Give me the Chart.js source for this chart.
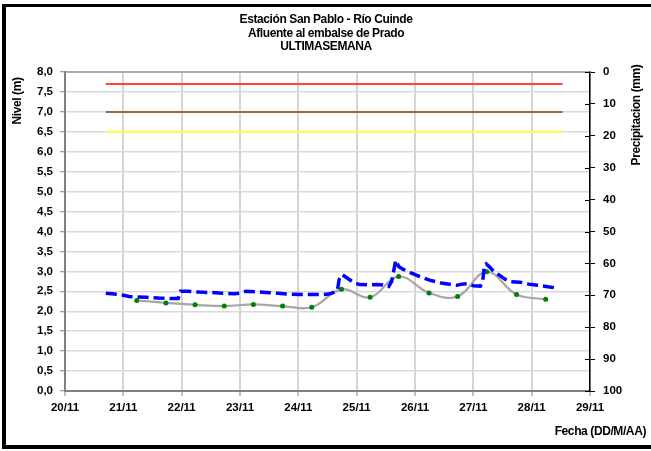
<!DOCTYPE html>
<html><head><meta charset="utf-8">
<script src="https://cdn.jsdelivr.net/npm/chart.js@4"></script>
<style>html,body{margin:0;padding:0;background:#fff}canvas{display:block}</style>
</head><body>
<canvas id="c" width="651" height="451"></canvas>
<script>
// ---- data ----
const titleLines = ['Estación San Pablo - Río Cuinde', 'Afluente al embalse de Prado', 'ULTIMASEMANA'];
const yTitle = 'Nivel (m)';
const y2Title = 'Precipitacion (mm)';
const xTitle = 'Fecha (DD/M/AA)';
const dayLabels = ['20/11','21/11','22/11','23/11','24/11','25/11','26/11','27/11','28/11','29/11'];

const levelT = [20.70,20.85,21.00,21.10,21.20,21.40,21.60,21.80,21.94,21.98,22.10,22.30,22.50,22.70,22.90,23.00,23.10,23.25,23.45,23.65,23.85,24.05,24.25,24.40,24.52,24.62,24.67,24.70,24.75,24.85,24.95,25.05,25.20,25.35,25.45,25.55,25.60,25.64,25.67,25.72,25.80,25.92,26.05,26.25,26.45,26.65,26.72,26.80,26.90,27.00,27.12,27.16,27.19,27.22,27.27,27.35,27.45,27.55,27.65,27.80,27.95,28.10,28.25,28.39];
const levelV = [2.45,2.43,2.40,2.37,2.36,2.35,2.33,2.32,2.32,2.50,2.50,2.48,2.47,2.45,2.44,2.45,2.50,2.49,2.47,2.45,2.43,2.42,2.42,2.42,2.43,2.48,2.52,2.80,2.92,2.82,2.72,2.67,2.66,2.67,2.66,2.62,2.75,3.05,3.28,3.12,3.05,2.97,2.89,2.78,2.71,2.66,2.65,2.68,2.69,2.64,2.63,2.75,3.15,3.19,3.12,3.00,2.90,2.80,2.74,2.73,2.68,2.65,2.62,2.59];

const avgT = [21.23,21.73,22.23,22.73,23.23,23.73,24.23,24.74,25.23,25.72,26.24,26.73,27.23,27.74,28.24];
const avgV = [2.27,2.21,2.16,2.13,2.17,2.13,2.10,2.55,2.35,2.87,2.46,2.37,2.99,2.42,2.30];

const limitT = [20.70, 28.53];
const redLevel = [7.7, 7.7];
const brownLevel = [7.0, 7.0];
const yellowLevel = [6.5, 6.5];

const pts = (t, v) => t.map((x, i) => ({x, y: v[i]}));
const FONT = 'Liberation Sans, Arial, sans-serif';

const decor = {
  id: 'decor',
  beforeDatasetsDraw(chart) {
    const ctx = chart.ctx, a = chart.chartArea;
    ctx.save();
    ctx.strokeStyle = '#999'; ctx.lineWidth = 1.5;
    ctx.beginPath(); ctx.moveTo(a.left, a.top); ctx.lineTo(a.right, a.top); ctx.stroke();
    ctx.restore();
  },
  afterDraw(chart) {
    const ctx = chart.ctx;
    const a = chart.chartArea;
    ctx.save();
    // titles
    ctx.fillStyle = '#000';
    ctx.textAlign = 'center';
    ctx.textBaseline = 'middle';
    ctx.font = 'bold 12px ' + FONT;
    try { ctx.letterSpacing = '-0.4px'; } catch (e) {}
    const cy = [20, 33.5, 47];
    titleLines.forEach((t, i) => ctx.fillText(t, 326, cy[i]));
    // axis titles
    ctx.font = 'bold 12px ' + FONT;
    ctx.save(); ctx.translate(18, 101); ctx.rotate(-Math.PI/2); ctx.fillText(yTitle, 0, 0); ctx.restore();
    ctx.save(); ctx.translate(637, 115); ctx.rotate(-Math.PI/2); ctx.fillText(y2Title, 0, 0); ctx.restore();
    ctx.textAlign = 'right';
    ctx.fillText(xTitle, 646, 432);
    try { ctx.letterSpacing = '0px'; } catch (e) {}
    // inward ticks on right axis
    const y2 = chart.scales.y2;
    ctx.strokeStyle = '#000'; ctx.lineWidth = 1;
    y2.ticks.forEach(tk => {
      const py = Math.round(y2.getPixelForValue(tk.value)) + 0.5;
      ctx.beginPath(); ctx.moveTo(a.right - 5, py); ctx.lineTo(a.right, py); ctx.stroke();
    });
    // frame
    ctx.fillStyle = '#000';
    ctx.fillRect(2, 4, 4, 445);
    ctx.fillRect(2, 4, 649, 3);
    ctx.fillRect(2, 445, 649, 4);
    ctx.restore();
  }
};

new Chart(document.getElementById('c'), {
  type: 'line',
  data: {
    datasets: [
      { data: pts(levelT, levelV), borderColor: '#0000ff', borderWidth: 3.5, borderDash: [11, 5], pointRadius: 0, tension: 0, yAxisID: 'y' },
      { data: pts(avgT, avgV), borderColor: '#a6a6a6', borderWidth: 2.2, pointRadius: 2.5, pointBackgroundColor: '#008000', pointBorderColor: '#008000', pointBorderWidth: 0, tension: 0.4, yAxisID: 'y' },
      { data: pts(limitT, redLevel), borderColor: '#ff4040', borderWidth: 2, pointRadius: 0, yAxisID: 'y' },
      { data: pts(limitT, brownLevel), borderColor: '#9a6b3a', borderWidth: 2, pointRadius: 0, yAxisID: 'y' },
      { data: pts(limitT, yellowLevel), borderColor: '#ffff40', borderWidth: 2, pointRadius: 0, yAxisID: 'y' }
    ]
  },
  options: {
    responsive: false,
    animation: false,
    layout: { padding: { top: 72, left: 0, right: 0, bottom: 0 } },
    plugins: { legend: { display: false }, tooltip: { enabled: false }, title: { display: false } },
    scales: {
      x: {
        type: 'linear', min: 20, max: 29,
        afterFit: s => { s.height = 60; },
        ticks: { stepSize: 1, autoSkip: false, maxRotation: 0, padding: 5, color: '#000',
          font: { family: FONT, size: 11.5, weight: 'bold' },
          callback: (v) => dayLabels[Math.round(v - 20)] },
        grid: { color: '#d4d4d4', lineWidth: 2, tickLength: 5, tickColor: '#808080', tickWidth: 1 },
        border: { color: '#808080', width: 2 }
      },
      y: {
        position: 'left', min: 0, max: 8,
        afterFit: s => { s.width = 65; },
        ticks: { stepSize: 0.5, padding: 7, color: '#000',
          font: { family: FONT, size: 11.5, weight: 'bold' },
          callback: v => v.toFixed(1).replace('.', ',') },
        grid: { color: '#d9d9d9', lineWidth: 1.5, tickLength: 5, tickColor: '#808080', tickWidth: 1 },
        border: { color: '#808080', width: 2 }
      },
      y2: {
        position: 'right', min: 0, max: 100, reverse: true,
        afterFit: s => { s.width = 61; },
        ticks: { stepSize: 10, padding: 8, color: '#000',
          font: { family: FONT, size: 11.5, weight: 'bold' } },
        grid: { drawOnChartArea: false, tickLength: 5, tickColor: '#000', tickWidth: 1 },
        border: { color: '#000', width: 1.5 }
      }
    }
  },
  plugins: [decor]
});
</script>
</body></html>
